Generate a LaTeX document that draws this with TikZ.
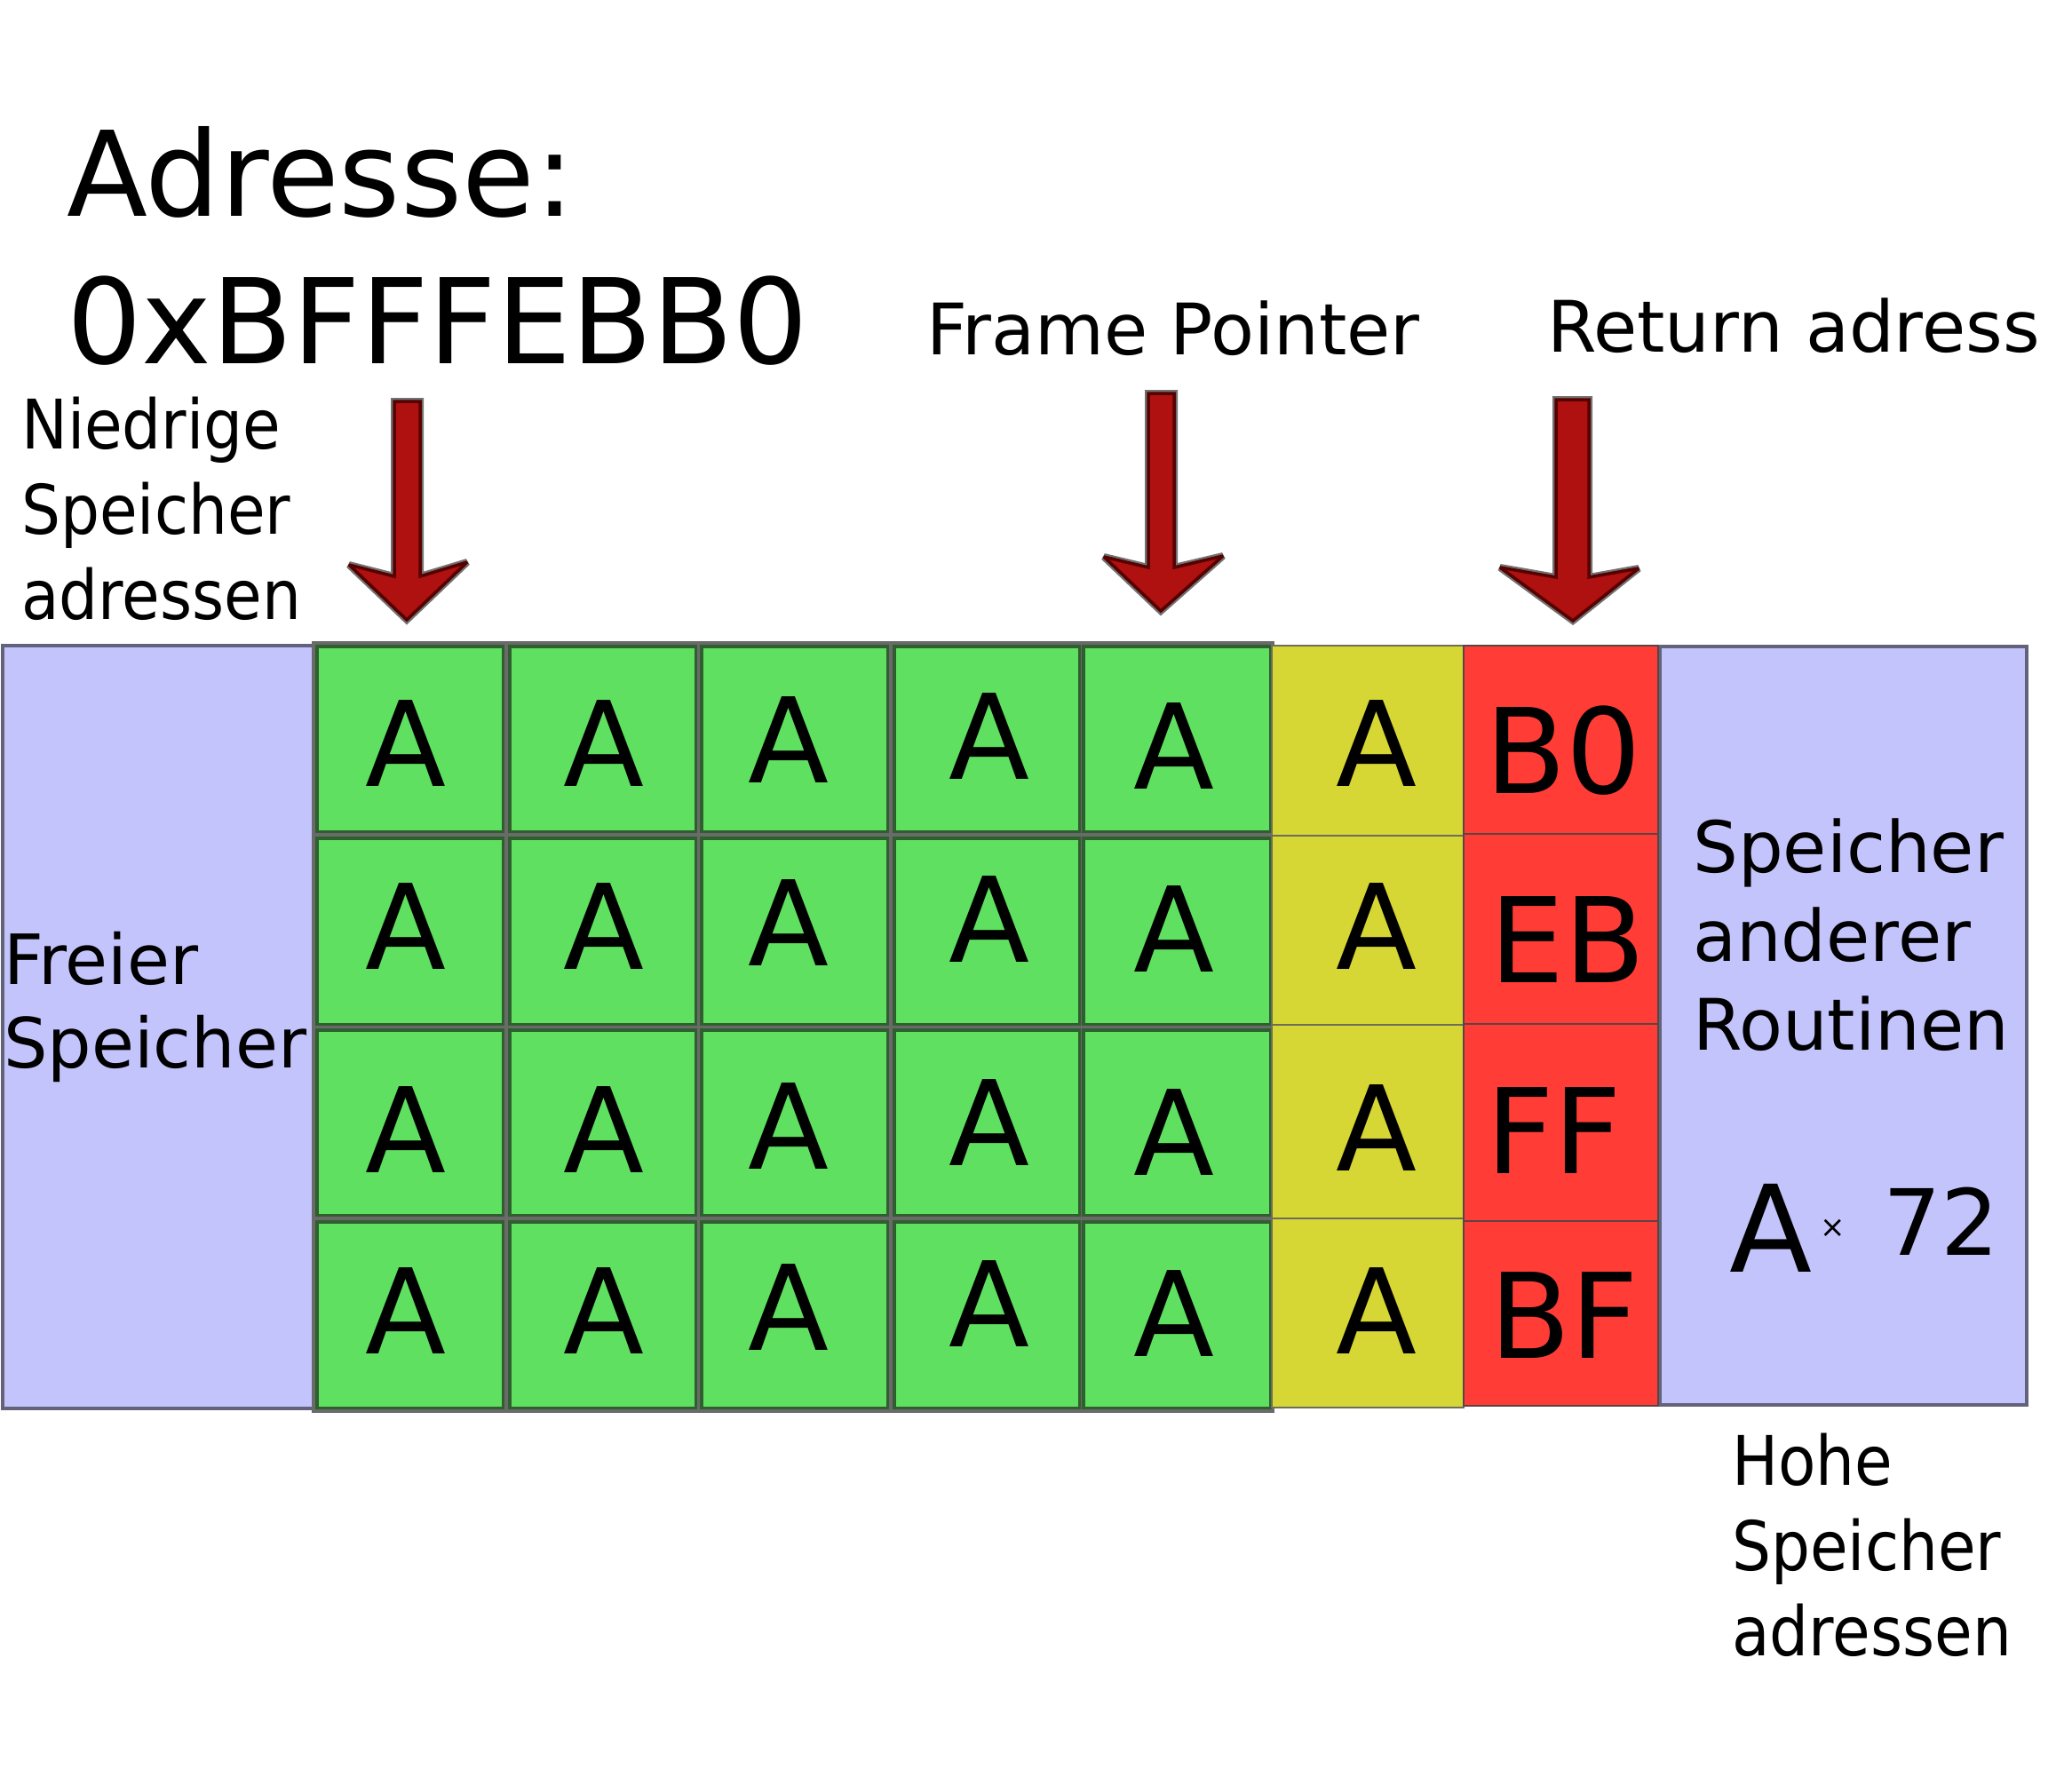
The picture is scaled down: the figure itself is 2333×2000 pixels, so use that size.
\documentclass[tikz,border=0pt]{standalone}
\usepackage{fontspec}
\setmainfont{DejaVu Sans}
\newfontfamily\condfont{DejaVu Sans Condensed}
\definecolor{cgreen}{HTML}{5FE060}
\definecolor{cdkgreen}{HTML}{2F5F2F}
\definecolor{cgap}{HTML}{6A6A6A}
\definecolor{cyellow}{HTML}{D6D634}
\definecolor{cyborder}{HTML}{6E6E58}
\definecolor{cred}{HTML}{FF3C35}
\definecolor{crborder}{HTML}{5A4444}
\definecolor{cpurple}{HTML}{C4C4FC}
\definecolor{cpborder}{HTML}{62627A}
\definecolor{arrred}{HTML}{AF1010}
\definecolor{arrdark}{HTML}{560000}
\definecolor{arrgray}{HTML}{727272}
\tikzset{
  pbox/.style={fill=cpurple, draw=cpborder, line width=4pt},
  gcell/.style={fill=cgreen, draw=cdkgreen, line width=3.5pt},
  ycell/.style={fill=cyellow, draw=cyborder, line width=2.5pt},
  rcell/.style={fill=cred, draw=crborder, line width=2.5pt},
  celltext/.style={anchor=base, inner sep=0pt, font=\fontsize{133}{160}\selectfont},
  bigtext/.style={anchor=base west, inner sep=0pt, font=\fontsize{133}{166}\selectfont},
  midtext/.style={anchor=base west, inner sep=0pt, font=\fontsize{80}{100}\selectfont},
  condtext/.style={anchor=base west, inner sep=0pt, font=\condfont\fontsize{77}{96}\selectfont},
  arrouter/.style={draw=arrgray, line width=8pt, line join=miter, miter limit=3},
  arrinner/.style={draw=arrdark, fill=arrred, line width=3.5pt, line join=miter, miter limit=3}
}
\begin{document}
\begin{tikzpicture}[x=1pt,y=-1pt]
\useasboundingbox (0,0) rectangle (2333,2000);

% purple side boxes
\draw[pbox] (2.5,727) rectangle (353,1586);
\draw[pbox] (1869,728) rectangle (2282,1582);

% green block
\fill[cgap] (351,722) rectangle (1435,1591);
\foreach \xa/\xb/\cx/\dy [count=\ci] in {355/568/457/0, 572/785/680/0, 788/1001/888/-4, 1005/1217/1114/-8, 1218/1432/1322/3}{
  \foreach \ya/\yb/\bl [count=\ri] in {726/938/885, 942/1155/1091, 1158/1370/1320, 1374/1587/1524}{
    \draw[gcell] ({\xa+1.75},{\ya+1.75}) rectangle ({\xb-1.75},{\yb-1.75});
    \node[celltext] (g\ri\ci) at (\cx,{\bl+\dy}) {A};
  }
}

% yellow column
\foreach \ya/\yb/\bl [count=\ri] in {727/941/885, 941/1154/1091, 1154/1372/1318, 1372/1585/1524}{
  \draw[ycell] (1432,\ya) rectangle (1648,\yb);
  \node[celltext] (y\ri) at (1550,\bl) {A};
}

% red column
\foreach \ya/\yb [count=\ri] in {727/939, 939/1153, 1153/1375, 1375/1583}{
  \draw[rcell] (1648,\ya) rectangle (1867,\yb);
}
\node[celltext] (r1) at (1760,893) {B0};
\node[celltext] (r2) at (1765,1106) {EB};
\node[celltext] (r3) at (1750,1321) {FF};
\node[celltext] (r4) at (1761,1529) {BF};

% arrows
\foreach \s in {arrouter, arrinner}{
  \path[\s] (444,452) -- (444,649) -- (393,636) -- (458,698) -- (526,633) -- (473,649) -- (473,452) -- cycle;
  \path[\s] (1293,443) -- (1293,639) -- (1243,627) -- (1307,688) -- (1377,626) -- (1322,639) -- (1322,443) -- cycle;
  \path[\s] (1752,450) -- (1752,650) -- (1689,639) -- (1771,699) -- (1845,640) -- (1789,650) -- (1789,450) -- cycle;
}

% labels
\node[bigtext] (addr) at (75,243) {\vtop{\hbox{Adresse:}\hbox{0xBFFFEBB0}}};
\node[midtext] (fp) at (1043,399) {Frame Pointer};
\node[midtext] (ra) at (1742,396) {Return adress};
\node[condtext] (low) at (24,505) {\vtop{\hbox{Niedrige}\hbox{Speicher}\hbox{adressen}}};
\node[condtext] (high) at (1950,1672) {\vtop{\hbox{Hohe}\hbox{Speicher}\hbox{adressen}}};
\node[midtext, font=\fontsize{78}{94}\selectfont] (free) at (4,1108) {\vtop{\hbox{Freier}\hbox{Speicher}}};
\node[midtext] (other) at (1906,982) {\vtop{\hbox{Speicher}\hbox{anderer}\hbox{Routinen}}};
\node[anchor=base west, inner sep=0pt, font=\fontsize{136}{160}\selectfont] (bigA) at (1947,1432) {A};
\node[inner sep=0pt, font=\fontsize{34}{40}\selectfont] (times) at (2064,1383) {×};
\node[anchor=base west, inner sep=0pt, font=\fontsize{103}{120}\selectfont] (n72) at (2120,1413) {72};
\end{tikzpicture}
\end{document}
